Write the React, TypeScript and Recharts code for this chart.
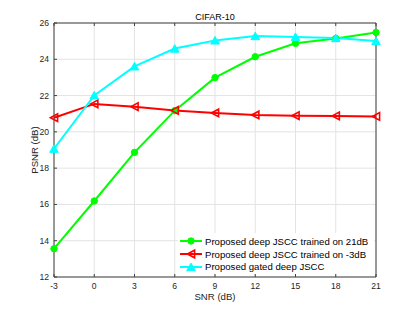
import { LineChart, Line, XAxis, YAxis, CartesianGrid } from "recharts";

// SNR (dB) on the x axis
const snr = [-3, 0, 3, 6, 9, 12, 15, 18, 21];
// PSNR (dB) per model
const trained21 = [13.56, 16.19, 18.87, 21.17, 22.99, 24.14, 24.88, 25.15, 25.48];
const trainedMinus3 = [20.78, 21.54, 21.39, 21.18, 21.04, 20.93, 20.89, 20.88, 20.85];
const gated = [19.07, 22.01, 23.61, 24.59, 25.04, 25.28, 25.23, 25.17, 25.01];

const xTicks = [-3, 0, 3, 6, 9, 12, 15, 18, 21];
const yTicks = [12, 14, 16, 18, 20, 22, 24, 26];
const seriesNames = [
  "Proposed deep JSCC trained on 21dB",
  "Proposed deep JSCC trained on -3dB",
  "Proposed gated deep JSCC",
];

const data = snr.map((s, i) => ({
  snr: s,
  t21: trained21[i],
  tm3: trainedMinus3[i],
  gated: gated[i],
}));

const FONT = '"Liberation Sans", Arial, Helvetica, sans-serif';
const AXIS = "#404040";
const TEXT = "#262626";
const GRID = "#e3e3e3";
const GAP = 5;
const TICK = 3;

const GREEN = "#00ff00";
const RED = "#ff0000";
const CYAN = "#00ffff";

const circleMark = (cx: number, cy: number, key?: string) => (
  <circle key={key} cx={cx} cy={cy} r={3.2} fill={GREEN} stroke={GREEN} strokeWidth={1} />
);
const leftTriMark = (cx: number, cy: number, key?: string) => (
  <polygon
    key={key}
    points={`${cx - 3.6},${cy} ${cx + 3.6},${cy - 3.8} ${cx + 3.6},${cy + 3.8}`}
    fill="none"
    stroke={RED}
    strokeWidth={1.6}
  />
);
const upTriMark = (cx: number, cy: number, key?: string) => (
  <polygon
    key={key}
    points={`${cx},${cy - 3.9} ${cx - 4.3},${cy + 3.6} ${cx + 4.3},${cy + 3.6}`}
    fill={CYAN}
    stroke={CYAN}
    strokeWidth={1}
  />
);

const dotFor = (mark: typeof circleMark, id: string) => (p: any) =>
  mark(p.cx, p.cy, `${id}-${p.index}`);

// ticks point inward, like the original plot
const LeftTick = (p: any) => (
  <g>
    <line x1={p.x + GAP} x2={p.x + GAP + TICK} y1={p.y} y2={p.y} stroke={AXIS} />
    <text x={p.x} y={p.y} dy="0.355em" textAnchor="end" fontSize={8.6} fill={TEXT} fontFamily={FONT}>
      {p.payload.value}
    </text>
  </g>
);
const BottomTick = (p: any) => (
  <g>
    <line x1={p.x} x2={p.x} y1={p.y - 6} y2={p.y - 6 - TICK} stroke={AXIS} />
    <text x={p.x} y={p.y} dy="0.71em" textAnchor="middle" fontSize={8.6} fill={TEXT} fontFamily={FONT}>
      {p.payload.value}
    </text>
  </g>
);
const TopTick = (p: any) => (
  <line x1={p.x} x2={p.x} y1={p.y + GAP} y2={p.y + GAP + TICK} stroke={AXIS} />
);
const RightTick = (p: any) => (
  <line x1={p.x - GAP} x2={p.x - GAP - TICK} y1={p.y} y2={p.y} stroke={AXIS} />
);

const legendMarks = [circleMark, leftTriMark, upTriMark];
const legendColors = [GREEN, RED, CYAN];

export default function App() {
  return (
    <div style={{ position: "absolute", left: 0, top: 0, width: 415, height: 312, background: "#fff" }}>
      <LineChart
        width={415}
        height={312}
        data={data}
        margin={{ top: 22, right: 38, bottom: 34, left: 53 }}
      >
        <CartesianGrid stroke={GRID} strokeWidth={1} />
        <XAxis
          dataKey="snr"
          type="number"
          domain={[-3, 21]}
          ticks={xTicks}
          height={1}
          tickSize={0}
          tickMargin={6}
          tickLine={false}
          stroke={AXIS}
          tick={BottomTick}
          label={{ value: "SNR (dB)", position: "bottom", offset: 15.5, fontSize: 9.6, fill: TEXT, fontFamily: FONT }}
        />
        <XAxis
          xAxisId="top"
          orientation="top"
          dataKey="snr"
          type="number"
          domain={[-3, 21]}
          ticks={xTicks}
          height={1}
          tickSize={0}
          tickMargin={GAP}
          tickLine={false}
          stroke={AXIS}
          tick={TopTick}
          label={{ value: "CIFAR-10", position: "top", offset: 2.5, fontSize: 9, fill: "#000", fontFamily: FONT }}
        />
        <YAxis
          type="number"
          domain={[12, 26]}
          ticks={yTicks}
          width={1}
          tickSize={0}
          tickMargin={GAP}
          tickLine={false}
          stroke={AXIS}
          tick={LeftTick}
          label={{
            value: "PSNR (dB)",
            angle: -90,
            position: "left",
            offset: 18,
            fontSize: 9.6,
            fill: TEXT,
            fontFamily: FONT,
            style: { textAnchor: "middle" },
          }}
        />
        <YAxis
          yAxisId="right"
          orientation="right"
          type="number"
          domain={[12, 26]}
          ticks={yTicks}
          width={1}
          tickSize={0}
          tickMargin={GAP}
          tickLine={false}
          stroke={AXIS}
          tick={RightTick}
        />
        <Line
          dataKey="t21"
          stroke={GREEN}
          strokeWidth={2}
          dot={dotFor(circleMark, "g")}
          activeDot={false}
          isAnimationActive={false}
        />
        <Line
          dataKey="tm3"
          stroke={RED}
          strokeWidth={2}
          dot={dotFor(leftTriMark, "r")}
          activeDot={false}
          isAnimationActive={false}
        />
        <Line
          dataKey="gated"
          stroke={CYAN}
          strokeWidth={2}
          dot={dotFor(upTriMark, "c")}
          activeDot={false}
          isAnimationActive={false}
        />
      </LineChart>
      <div
        style={{
          position: "absolute",
          left: 178,
          top: 233,
          width: 196,
          height: 41,
          background: "#fff",
          paddingTop: 2,
          boxSizing: "border-box",
          fontFamily: FONT,
          fontSize: 9.6,
          color: "#000",
        }}
      >
        {seriesNames.map((name, i) => (
          <div key={name} style={{ display: "flex", alignItems: "center", height: 12.7 }}>
            <svg width={26} height={12} style={{ flex: "none" }}>
              <line x1={2} x2={24} y1={6} y2={6} stroke={legendColors[i]} strokeWidth={2} />
              {legendMarks[i](13, 6)}
            </svg>
            <span style={{ marginLeft: 1, whiteSpace: "nowrap" }}>{name}</span>
          </div>
        ))}
      </div>
    </div>
  );
}
